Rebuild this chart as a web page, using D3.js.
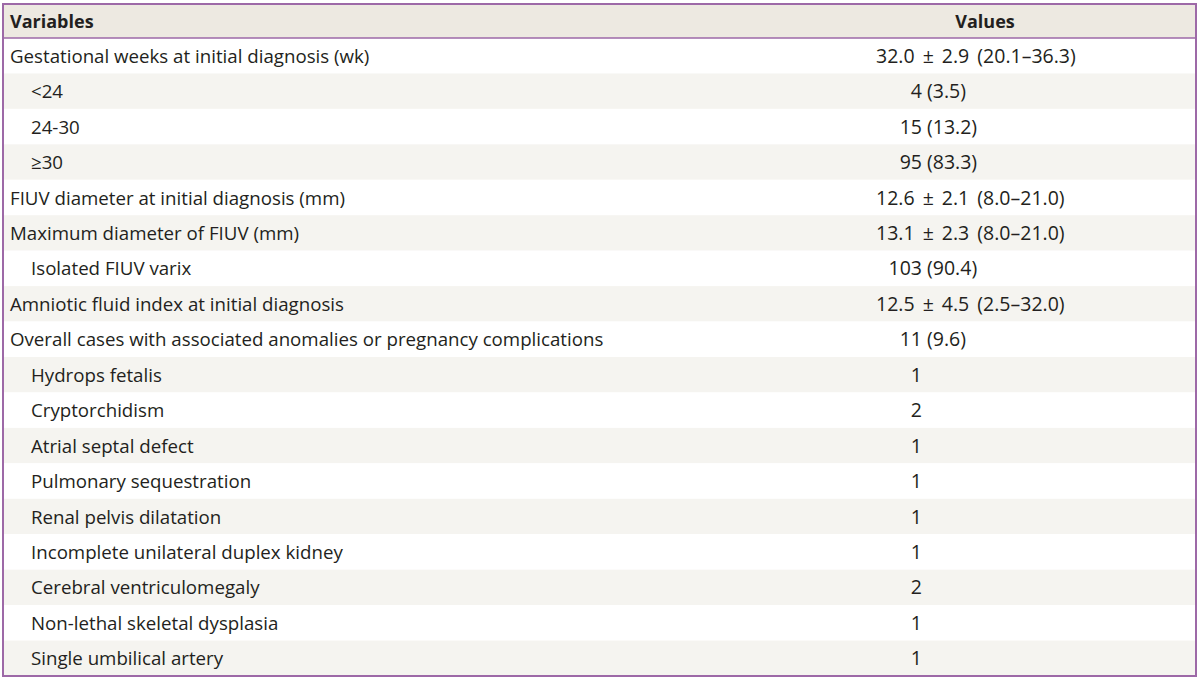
<!DOCTYPE html>
<html>
<head>
<meta charset="utf-8">
<script src="https://cdn.jsdelivr.net/npm/d3@7"></script>
<style>
  body { margin: 0; background: #fff; }
  svg text { font-family: "Open Sans", "Noto Sans", sans-serif; fill: #231f20; }
</style>
</head>
<body>
<div id="table_dataviz"></div>
<script>
// Table content
const headers = ["Variables", "Values"];
const labels = [
  "Gestational weeks at initial diagnosis (wk)",
  "<24",
  "24-30",
  "\u226530",
  "FIUV diameter at initial diagnosis (mm)",
  "Maximum diameter of FIUV (mm)",
  "Isolated FIUV varix",
  "Amniotic fluid index at initial diagnosis",
  "Overall cases with associated anomalies or pregnancy complications",
  "Hydrops fetalis",
  "Cryptorchidism",
  "Atrial septal defect",
  "Pulmonary sequestration",
  "Renal pelvis dilatation",
  "Incomplete unilateral duplex kidney",
  "Cerebral ventriculomegaly",
  "Non-lethal skeletal dysplasia",
  "Single umbilical artery"
];
const values = [
  "32.0 \u00b1 2.9 (20.1\u201336.3)",
  "4 (3.5)",
  "15 (13.2)",
  "95 (83.3)",
  "12.6 \u00b1 2.1 (8.0\u201321.0)",
  "13.1 \u00b1 2.3 (8.0\u201321.0)",
  "103 (90.4)",
  "12.5 \u00b1 4.5 (2.5\u201332.0)",
  "11 (9.6)",
  "1", "2", "1", "1", "1", "1", "2", "1", "1"
];
const indented = [0, 1, 1, 1, 0, 0, 1, 0, 0, 1, 1, 1, 1, 1, 1, 1, 1, 1];

const width = 1200, height = 680;
const tLeft = 3, tRight = 1196, tTop = 4, headH = 34, tBottom = 676;
const purple = "#9d69a7";
const labelSize = "18.7px", valueSize = "19.5px";

const svg = d3.select("#table_dataviz")
  .append("svg")
  .attr("width", width)
  .attr("height", height);

const rows = d3.range(labels.length);
const y = d3.scaleBand()
  .domain(rows)
  .range([tTop + headH, tBottom]);

// header background
svg.append("rect")
  .attr("x", tLeft).attr("y", tTop)
  .attr("width", tRight - tLeft).attr("height", headH)
  .attr("fill", "#ede9e1");

// striped rows
svg.append("g")
  .selectAll("rect")
  .data(rows)
  .enter()
  .append("rect")
    .attr("x", tLeft)
    .attr("y", d => y(d))
    .attr("width", tRight - tLeft)
    .attr("height", y.bandwidth())
    .attr("fill", d => d % 2 ? "#f5f4f0" : "#ffffff");

// header text
svg.append("text")
  .attr("x", 10).attr("y", tTop + headH / 2 + 6.5)
  .style("font-size", "18px").style("font-weight", "bold")
  .text(headers[0]);
svg.append("text")
  .attr("x", 985).attr("y", tTop + headH / 2 + 6.5)
  .attr("text-anchor", "middle")
  .style("font-size", "18px").style("font-weight", "bold")
  .text(headers[1]);

// variable labels
svg.append("g")
  .selectAll("text")
  .data(rows)
  .enter()
  .append("text")
    .attr("x", d => indented[d] ? 31 : 10)
    .attr("y", d => y(d) + y.bandwidth() / 2 + 7)
    .style("font-size", labelSize)
    .text(d => labels[d]);

// values: mean rows start at a fixed left edge, count rows line up on the integer part
const cells = svg.append("g")
  .selectAll("text")
  .data(rows)
  .enter()
  .append("text")
    .attr("y", d => y(d) + y.bandwidth() / 2 + 7)
    .style("font-size", valueSize)
    .text(d => values[d]);

cells.each(function (d) {
  const v = values[d];
  if (v.includes("\u00b1")) {
    d3.select(this).attr("x", 876).style("word-spacing", "3px");
  } else {
    const head = v.split(" ")[0];
    const probe = svg.append("text").style("font-size", valueSize).text(head);
    const w = probe.node().getComputedTextLength();
    probe.remove();
    d3.select(this).attr("x", 922 - w);
  }
});

// borders
svg.append("line")
  .attr("x1", tLeft).attr("x2", tRight)
  .attr("y1", tTop + headH).attr("y2", tTop + headH)
  .attr("stroke", purple).attr("stroke-width", 1.5);

svg.append("rect")
  .attr("x", tLeft).attr("y", tTop)
  .attr("width", tRight - tLeft).attr("height", tBottom - tTop)
  .attr("fill", "none")
  .attr("stroke", purple)
  .attr("stroke-width", 2);
</script>
</body>
</html>
